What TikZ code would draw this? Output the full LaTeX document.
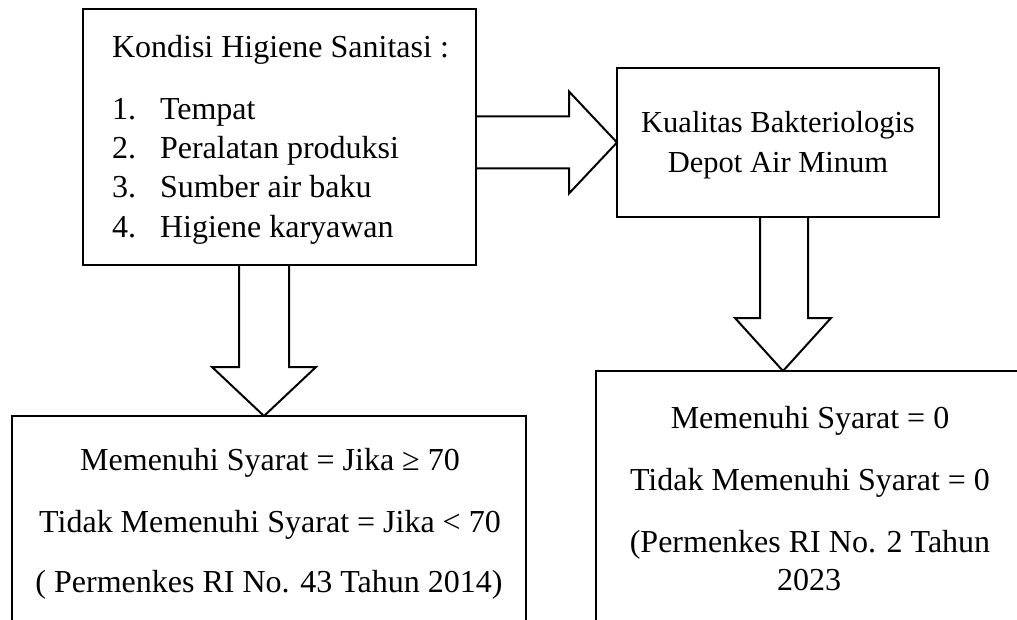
\documentclass[tikz,border=0pt]{standalone}
\usepackage{fontspec}
\setmainfont{Liberation Serif}
\usetikzlibrary{calc}
\tikzset{
  boxstyle/.style={draw=black, line width=2pt, rectangle, inner sep=0pt, outer sep=0pt, fill=none},
  hollowarrow/.style={draw=black, line width=2pt, line join=miter},
  txt/.style={inner sep=0pt, outer sep=0pt, font=\fontsize{32}{38}\selectfont},
  txtsmall/.style={inner sep=0pt, outer sep=0pt, font=\fontsize{30.5}{36}\selectfont},
}
\begin{document}
\begin{tikzpicture}[x=1pt,y=-1pt]
\useasboundingbox (0,0) rectangle (1017,620);
\clip (0,0) rectangle (1017,620);
\fill[white] (0,0) rectangle (1017,620);

% boxes
\node[boxstyle, minimum width=393pt, minimum height=256pt] (b1) at (279.5,137) {};
\node[boxstyle, minimum width=322pt, minimum height=149pt] (b2) at (778,142.5) {};
\node[boxstyle, minimum width=514pt, minimum height=300pt] (b3) at (269,566) {};
\node[boxstyle, minimum width=460pt, minimum height=300pt] (b4) at (826,521) {};

% box 1 text
\node[txt, anchor=base west] (t1) at (112,58) {Kondisi Higiene Sanitasi :};
\node[txt, anchor=base west] (n1) at (112,120) {1.};
\node[txt, anchor=base west] (l1) at (160,120) {Tempat};
\node[txt, anchor=base west] (n2) at (112,159) {2.};
\node[txt, anchor=base west] (l2) at (160,159) {Peralatan produksi};
\node[txt, anchor=base west] (n3) at (112,198) {3.};
\node[txt, anchor=base west] (l3) at (160,198) {Sumber air baku};
\node[txt, anchor=base west] (n4) at (112,238) {4.};
\node[txt, anchor=base west] (l4) at (160,238) {Higiene karyawan};

% box 2 text
\node[txtsmall, anchor=base] (k1) at (778,133) {Kualitas Bakteriologis};
\node[txtsmall, anchor=base] (k2) at (778,173) {Depot Air Minum};

% box 3 text
\node[txt, anchor=base] (m1) at (270,470) {Memenuhi Syarat = Jika ≥ 70};
\node[txt, anchor=base] (m2) at (270,532) {Tidak Memenuhi Syarat = Jika < 70};
\node[txt, anchor=base] (m3) at (269,592) {( Permenkes RI No. 43 Tahun 2014)};

% box 4 text
\node[txt, anchor=base] (r1) at (810,428) {Memenuhi Syarat = 0};
\node[txt, anchor=base] (r2) at (810,490) {Tidak Memenuhi Syarat = 0};
\node[txt, anchor=base] (r3) at (810,552) {(Permenkes RI No. 2 Tahun};
\node[txt, anchor=base] (r4) at (809,590) {2023};

% right arrow b1 -> b2
\coordinate (R0) at (b1.east |- b2.west);
\draw[hollowarrow] ($(R0)+(0,-26)$) -- ($(R0)+(93,-26)$) -- ($(R0)+(93,-51)$)
  -- (b2.west) -- ($(R0)+(93,51)$) -- ($(R0)+(93,26)$) -- ($(R0)+(0,26)$);

% down arrow b1 -> b3
\coordinate (D1) at ($(b1.south west)+(181,0)$);
\coordinate (D1t) at (D1 |- b3.north);
\draw[hollowarrow] ($(D1)+(-25,0)$) -- ($(D1)+(-25,102)$) -- ($(D1)+(-52,102)$)
  -- (D1t) -- ($(D1)+(52,102)$) -- ($(D1)+(25,102)$) -- ($(D1)+(25,0)$);

% down arrow b2 -> b4
\coordinate (D2) at ($(b2.south west)+(166,0)$);
\coordinate (D2t) at (D2 |- b4.north);
\draw[hollowarrow] ($(D2)+(-23,0)$) -- ($(D2)+(-23,101)$) -- ($(D2)+(-48,101)$)
  -- (D2t) -- ($(D2)+(48,101)$) -- ($(D2)+(25,101)$) -- ($(D2)+(25,0)$);
\end{tikzpicture}
\end{document}
